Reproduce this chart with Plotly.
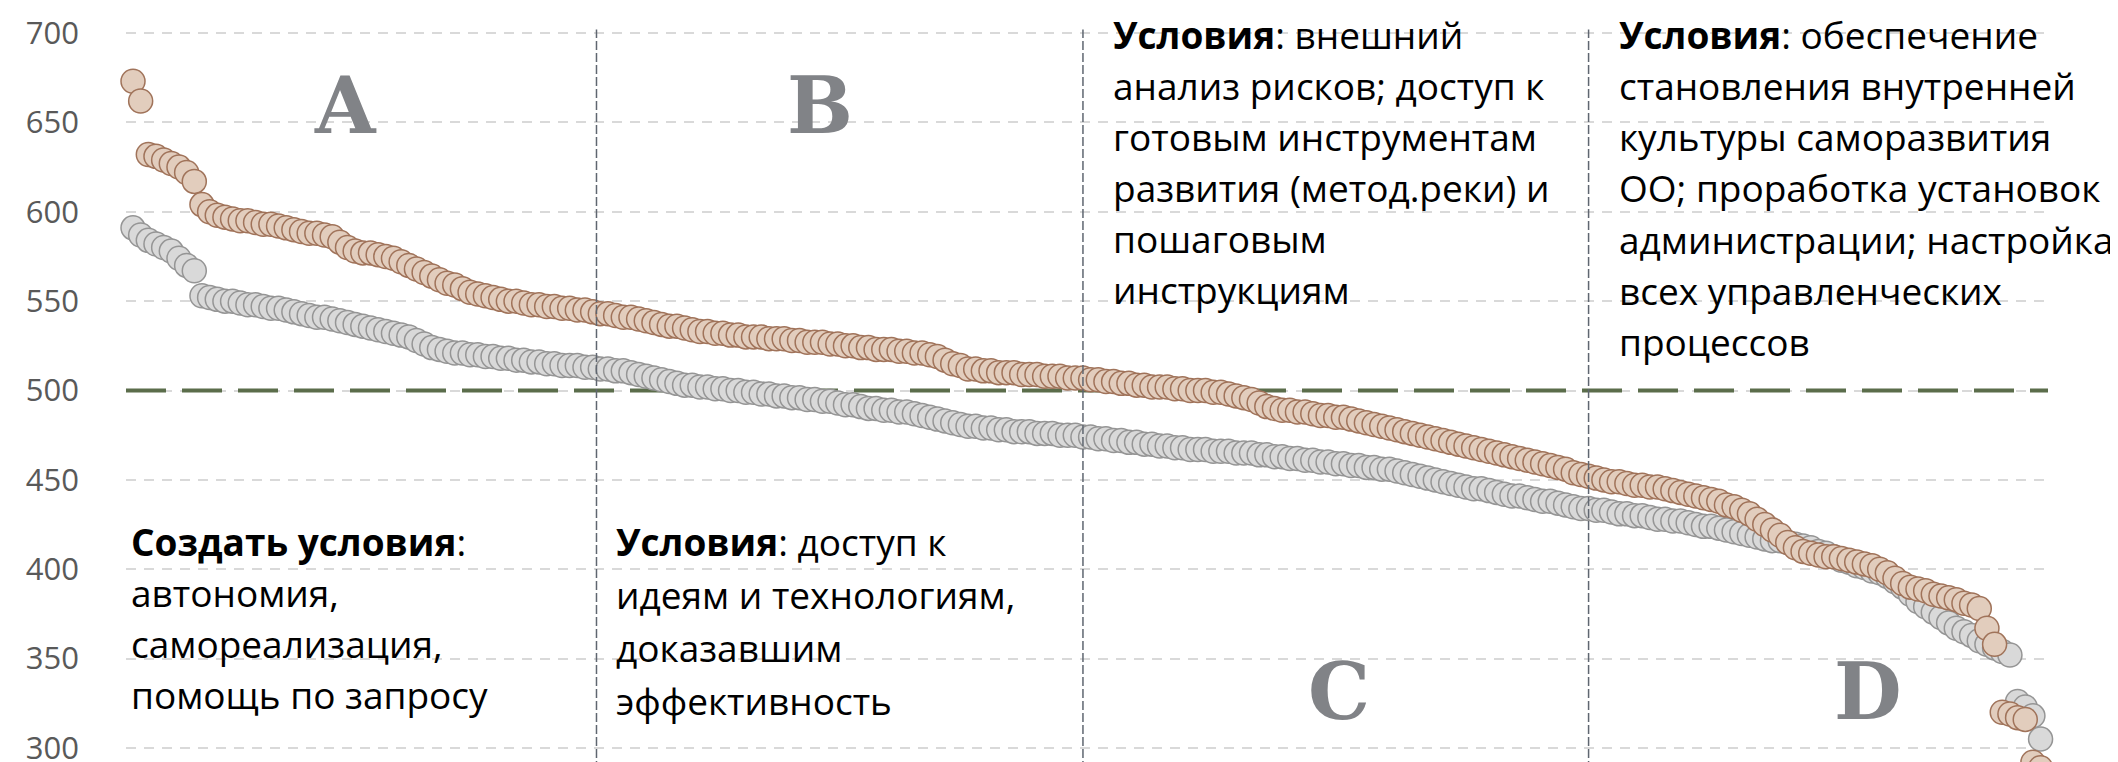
import plotly.graph_objects as go

# ---- data ----
brown = [
    673, 662, 632, 631, 629, 627, 625, 622, 617, 604,
    600, 598, 597, 596, 595, 595, 594, 593, 593, 592,
    591, 590, 589, 588, 588, 587, 586, 583, 580, 578,
    577, 577, 576, 575, 574, 572, 570, 568, 566, 564,
    562, 560, 559, 557, 555, 554, 553, 552, 551, 550,
    550, 549, 548, 548, 547, 547, 546, 546, 545, 545,
    544, 543, 543, 542, 541, 541, 540, 539, 538, 537,
    536, 536, 535, 534, 533, 533, 532, 532, 531, 531,
    530, 530, 530, 529, 529, 529, 528, 528, 527, 527,
    527, 526, 526, 525, 525, 524, 524, 523, 523, 523,
    522, 522, 521, 521, 520, 519, 517, 515, 514, 512,
    512, 511, 511, 510, 510, 510, 509, 509, 509, 508,
    508, 508, 507, 507, 507, 506, 506, 505, 505, 504,
    504, 503, 503, 502, 502, 502, 501, 501, 500, 500,
    500, 499, 499, 498, 497, 496, 495, 493, 491, 490,
    489, 489, 488, 488, 487, 486, 486, 485, 485, 484,
    483, 482, 481, 480, 479, 478, 477, 476, 475, 474,
    473, 472, 471, 470, 469, 468, 467, 466, 465, 464,
    463, 462, 461, 460, 459, 458, 457, 456, 454, 453,
    452, 451, 450, 449, 449, 448, 447, 447, 446, 446,
    445, 444, 443, 442, 441, 440, 439, 438, 436, 435,
    433, 431, 428, 425, 422, 419, 415, 412, 410, 409,
    408, 407, 407, 406, 405, 404, 403, 402, 400, 398,
    395, 392, 390, 389, 388, 386, 385, 384, 383, 381,
    380, 378, 367, 358, 320, 319, 317, 316, 292, 289,
]

gray = [
    591, 587, 584, 582, 580, 578, 574, 570, 567, 553,
    552, 551, 550, 550, 549, 548, 548, 547, 546, 546,
    545, 544, 543, 542, 541, 541, 540, 539, 538, 537,
    536, 535, 534, 533, 532, 531, 530, 528, 526, 524,
    523, 522, 521, 521, 520, 520, 519, 519, 518, 518,
    517, 517, 516, 516, 515, 515, 514, 514, 514, 513,
    513, 512, 512, 511, 511, 510, 509, 508, 507, 506,
    505, 504, 503, 503, 502, 502, 501, 501, 500, 500,
    499, 499, 498, 498, 497, 497, 496, 496, 495, 495,
    494, 494, 493, 492, 492, 491, 490, 490, 489, 489,
    488, 488, 487, 486, 485, 484, 483, 482, 481, 480,
    480, 479, 479, 478, 478, 477, 477, 477, 476, 476,
    476, 475, 475, 475, 474, 474, 473, 473, 472, 472,
    471, 471, 470, 470, 469, 469, 468, 468, 467, 467,
    467, 466, 466, 466, 465, 465, 465, 464, 464, 463,
    463, 462, 462, 461, 461, 460, 460, 459, 459, 458,
    458, 457, 457, 456, 456, 455, 454, 453, 452, 451,
    450, 449, 448, 447, 446, 445, 445, 444, 443, 442,
    441, 441, 440, 439, 438, 438, 437, 436, 435, 434,
    434, 433, 433, 432, 431, 431, 430, 430, 429, 428,
    428, 427, 427, 426, 425, 424, 424, 423, 422, 421,
    420, 419, 418, 417, 416, 416, 415, 414, 413, 412,
    410, 409, 407, 405, 404, 402, 401, 399, 398, 396,
    393, 390, 386, 382, 379, 376, 373, 370, 367, 365,
    363, 360, 358, 356, 354, 352, 326, 323, 318, 305,
]

rank = list(range(1, len(brown) + 1))
threshold = 500
dividers = [61.5, 125, 191]
y_ticks = [300, 350, 400, 450, 500, 550, 600, 650, 700]
zone_letters = ["A", "B", "C", "D"]

block_a = ["<b>Создать условия</b>:", "автономия,", "самореализация,", "помощь по запросу"]
block_b = ["<b>Условия</b>: доступ к", "идеям и технологиям,", "доказавшим", "эффективность"]
block_c = ["<b>Условия</b>: внешний", "анализ рисков; доступ к", "готовым инструментам",
           "развития (метод.реки) и", "пошаговым", "инструкциям"]
block_d = ["<b>Условия</b>: обеспечение", "становления внутренней", "культуры саморазвития",
           "ОО; проработка установок", "администрации; настройка", "всех управленческих",
           "процессов"]

# ---- figure ----
W, H = 2118, 762
L, R = 118, 2040
X_RANGE = [0.086, 250.97]
Y_RANGE = [287.7, 714.0]

fig = go.Figure()
# reference level line (drawn under the markers, above the grid)
fig.add_trace(go.Scatter(
    x=X_RANGE, y=[threshold, threshold], mode="lines", cliponaxis=False,
    line=dict(color="#5b6d4b", width=4, dash="40px,16px"), hoverinfo="skip"))
fig.add_trace(go.Scatter(
    x=rank, y=gray, mode="markers", cliponaxis=False,
    marker=dict(size=24, color="#d9d9d9", line=dict(color="#959595", width=1.5)),
    hoverinfo="skip"))
fig.add_trace(go.Scatter(
    x=rank, y=brown, mode="markers", cliponaxis=False,
    marker=dict(size=24, color="#e2cdbd", line=dict(color="#a0735a", width=1.5)),
    hoverinfo="skip"))

shapes = []
for d in dividers:
    shapes.append(dict(type="line", xref="x", x0=d, x1=d, yref="y", y0=Y_RANGE[0], y1=702,
                       line=dict(color="#5f6670", width=1.5, dash="9px,3px"), layer="above"))

def px_x(p):
    return (p - L) / (R - L)

def px_y(p):
    return 1 - p / H

annotations = []
letter_pos = [(337, 97), (812, 97), (1331, 683), (1860, 683)]
for letter, (lx, ly) in zip(zone_letters, letter_pos):
    annotations.append(dict(text="<b>%s</b>" % letter, xref="paper", yref="paper",
                            x=px_x(lx), y=px_y(ly), xanchor="center", yanchor="middle",
                            showarrow=False,
                            font=dict(family="DejaVu Serif", size=78, color="#818387")))

blocks = [(block_a, 121, 533, 51), (block_b, 606, 533, 53),
          (block_c, 1103, 26, 51), (block_d, 1609, 26, 51.3)]
for lines, left, top, step in blocks:
    for k, line in enumerate(lines):
        annotations.append(dict(text=line, xref="paper", yref="paper",
                                x=px_x(left), y=px_y(top + k * step),
                                xanchor="left", yanchor="middle", showarrow=False,
                                font=dict(family="Open Sans", size=37, color="#000000")))

fig.update_layout(
    width=W, height=H,
    margin=dict(l=L, r=W - R, t=0, b=0, pad=0),
    paper_bgcolor="white", plot_bgcolor="white",
    showlegend=False,
    shapes=shapes, annotations=annotations,
    xaxis=dict(range=X_RANGE, showgrid=False, zeroline=False, showline=False,
               showticklabels=False, ticks=""),
    yaxis=dict(range=Y_RANGE, tickvals=y_ticks, showgrid=True, gridcolor="#d9d9d9",
               gridwidth=2, griddash="10px,8px", zeroline=False, showline=False,
               ticks="", ticklabelstandoff=46,
               tickfont=dict(family="Open Sans", size=31, color="#595959")),
)

fig.write_html("out.html")
